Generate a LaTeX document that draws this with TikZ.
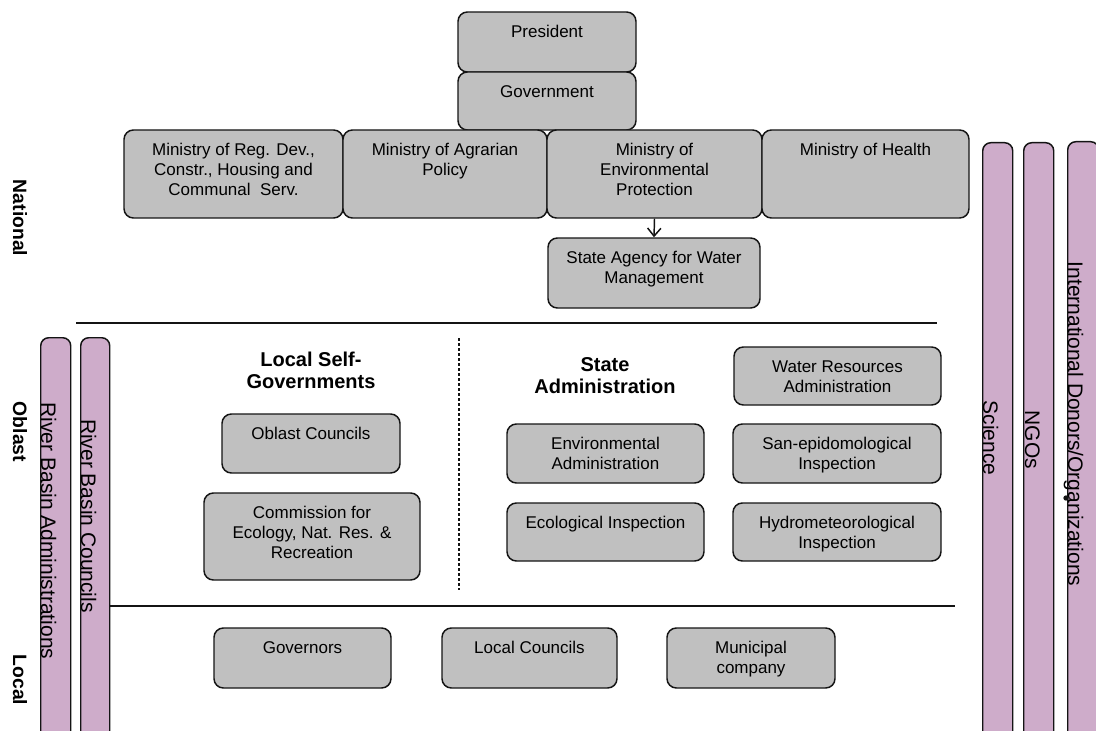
\documentclass[tikz,border=0pt]{standalone}
\usepackage{fontspec}
\setmainfont{Liberation Sans}
\usetikzlibrary{arrows.meta}
\definecolor{boxgray}{RGB}{192,192,192}
\definecolor{barlilac}{RGB}{206,172,202}
\definecolor{edge}{RGB}{20,20,20}
\tikzset{
  sz/.style 2 args={minimum width=#1*0.75pt, minimum height=#2*0.75pt},
  gbox/.style={draw=edge, fill=boxgray, line width=1.1pt, rounded corners=7pt, inner sep=0pt},
  pbar/.style={draw=edge, fill=barlilac, line width=1.1pt, rounded corners=6pt, inner sep=0pt},
  lbl/.style={anchor=north, inner sep=0pt, align=center, font=\fontsize{12.75}{15}\selectfont},
  head/.style={inner sep=0pt, align=center, font=\fontsize{15}{16.5}\selectfont\bfseries},
  side/.style={rotate=-90, anchor=base, inner sep=0pt, font=\fontsize{14.5}{16}\selectfont\bfseries},
  bartext/.style={rotate=-90, anchor=base, inner sep=0pt, font=\fontsize{15.75}{18}\selectfont},
  sep/.style={line width=1.1pt, draw=edge},
}
\newcommand\boxlabel[3]{\node[lbl] (#1-t) at ([yshift=-10.5pt]#1.north) {#3};}
\begin{document}
\begin{tikzpicture}[x=0.75pt, y=-0.75pt]
\clip (0,0) rectangle (1096,731);
\fill[white] (0,0) rectangle (1096,731);

% level names on the left
\node[side] (nat) at (13,218) {National};
\node[side] (obl) at (13,432) {Oblast};
\node[side] (loc) at (13,680) {Local};

% vertical bars
\node[pbar, sz={30}{410}, anchor=north west] (rba) at (40,337) {};
\node[pbar, sz={29}{410}, anchor=north west] (rbc) at (80,337) {};
\node[pbar, sz={30}{610}, anchor=north west] (sci) at (982,142) {};
\node[pbar, sz={30}{610}, anchor=north west] (ngo) at (1023,142) {};
\node[pbar, sz={31}{610}, anchor=north west] (ido) at (1067,141) {};
\node[bartext] (rba-t) at (41,531) {River Basin Administrations};
\node[bartext] (rbc-t) at (81,516) {River Basin Councils};
\node[bartext] (sci-t) at (983,438) {Science};
\node[bartext] (ngo-t) at (1025,440) {NGOs};
\node[bartext] (ido-t) at (1068,424) {International Donors/Organizations};
\fill[edge] (1066,498) circle (2pt);

% separators between levels
\coordinate (s1a) at (76,323);
\coordinate (s1b) at (937,323);
\coordinate (s2a) at (109,606);
\coordinate (s2b) at (955,606);
\coordinate (d1) at (459,338);
\coordinate (d2) at (459,590);
\draw[sep] (s1a) -- (s1b);
\draw[sep] (s2a) -- (s2b);
\draw[sep, dash pattern=on 2.25pt off 1.5pt] (d1) -- (d2);

% national level
\node[gbox, sz={178}{60}] (pres) at (547,42) {};
\node[gbox, sz={178}{58}] (gov) at (547,101) {};
\node[gbox, sz={219}{88}] (mreg) at (233.5,174) {};
\node[gbox, sz={204}{88}] (magr) at (445,174) {};
\node[gbox, sz={215}{88}] (menv) at (654.5,174) {};
\node[gbox, sz={207}{88}] (mhea) at (865.5,174) {};
\node[gbox, sz={212}{70}] (sawm) at (654,273) {};
\boxlabel{pres}{}{President}
\boxlabel{gov}{}{Government}
\boxlabel{mreg}{}{Ministry of Reg. Dev.,\\Constr., Housing and\\Communal\ \ Serv.}
\boxlabel{magr}{}{Ministry of Agrarian\\Policy}
\boxlabel{menv}{}{Ministry of\\Environmental\\Protection}
\boxlabel{mhea}{}{Ministry of Health}
\boxlabel{sawm}{}{State Agency for Water\\Management}
\draw[line width=1.1pt, draw=edge, -{Straight Barb[length=6pt, width=10pt]}] (menv.south) -- (sawm.north);

% oblast level
\node[head] (lsg) at (311,370) {Local Self-\\Governments};
\node[head] (sadm) at (605,376) {State\\Administration};
\node[gbox, sz={178}{59}] (oc) at (311,443.5) {};
\node[gbox, sz={216}{87}] (com) at (312,536.5) {};
\node[gbox, sz={207}{58}] (wra) at (837.5,376) {};
\node[gbox, sz={197}{59}] (ea) at (605.5,453.5) {};
\node[gbox, sz={208}{59}] (sei) at (837,453.5) {};
\node[gbox, sz={197}{58}] (ei) at (605.5,532) {};
\node[gbox, sz={208}{58}] (hi) at (837,532) {};
\boxlabel{oc}{}{Oblast Councils}
\boxlabel{com}{}{Commission for\\Ecology, Nat. Res. \&\\Recreation}
\boxlabel{wra}{}{Water Resources\\Administration}
\boxlabel{ea}{}{Environmental\\Administration}
\boxlabel{sei}{}{San-epidomological\\Inspection}
\boxlabel{ei}{}{Ecological Inspection}
\boxlabel{hi}{}{Hydrometeorological\\Inspection}

% local level
\node[gbox, sz={177}{60}] (gvn) at (302.5,658) {};
\node[gbox, sz={175}{60}] (lc) at (529.5,658) {};
\node[gbox, sz={168}{60}] (mc) at (751,658) {};
\boxlabel{gvn}{}{Governors}
\boxlabel{lc}{}{Local Councils}
\boxlabel{mc}{}{Municipal\\company}
\end{tikzpicture}
\end{document}
